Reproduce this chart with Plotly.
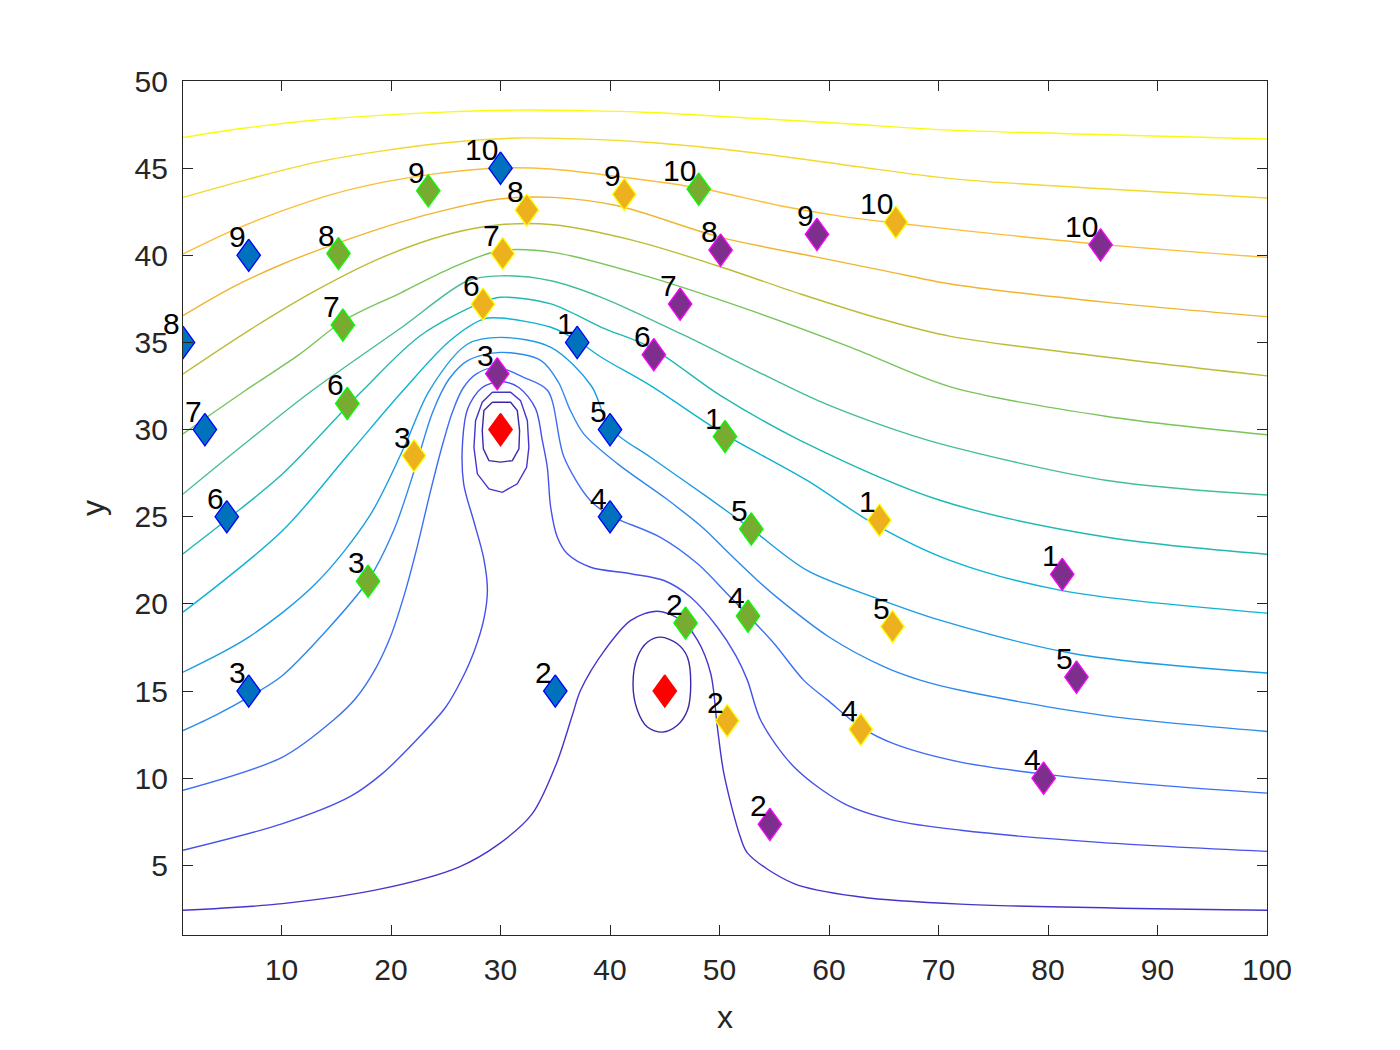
import plotly.graph_objects as go

# streamlines (named by their far-field height)
line_466_x = [1, 7.0, 13.1, 19.2, 25.3, 31.4, 37.5, 43.7, 52.9, 62.0, 71.1, 85.4, 100]
line_466_y = [46.76, 47.33, 47.76, 48.04, 48.23, 48.33, 48.30, 48.19, 47.87, 47.53, 47.18, 46.92, 46.67]

line_432_x = [1, 7.0, 13.1, 19.2, 25.3, 31.4, 34.6, 43.7, 52.9, 62.0, 71.1, 85.4, 100]
line_432_y = [43.32, 44.37, 45.33, 45.99, 46.47, 46.73, 46.72, 46.47, 45.90, 45.14, 44.40, 43.80, 43.29]

line_398_x = [1, 5.5, 10.1, 14.7, 19.2, 23.8, 29.9, 34.6, 41.3, 48.1, 55.9, 61.0, 66.1, 71.1, 85.4, 100]
line_398_y = [40.07, 41.41, 42.56, 43.51, 44.18, 44.66, 45.01, 44.95, 44.47, 43.86, 42.80, 42.25, 41.85, 41.50, 40.60, 39.88]

line_364_x = [1, 5.5, 10.1, 15.3, 20.8, 25.3, 29.9, 34.8, 40.7, 50.1, 59.0, 65.0, 71.1, 85.4, 100]
line_364_y = [36.54, 38.16, 39.50, 40.74, 41.89, 42.65, 43.23, 43.32, 42.84, 41.03, 39.88, 39.12, 38.35, 37.30, 36.48]

line_330_x = [1, 7.0, 13.1, 19.2, 25.3, 29.9, 34.8, 42.2, 49.8, 57.4, 65.0, 71.1, 85.4, 100]
line_330_y = [33.19, 35.68, 37.97, 39.88, 41.22, 41.75, 41.75, 40.84, 39.40, 37.78, 36.30, 35.35, 34.15, 33.08]

line_296_x = [1, 6.7, 11.6, 15.8, 20.9, 25.3, 29.9, 34.8, 43.7, 52.9, 62.0, 71.1, 85.4, 100]
line_296_y = [29.75, 32.24, 34.30, 36.30, 37.85, 39.21, 40.26, 40.17, 38.73, 36.82, 34.72, 32.45, 30.75, 29.70]

line_262_x = [1, 7.0, 12.8, 20.9, 27.0, 30.0, 34.6, 39.2, 46.8, 52.9, 59.0, 64.6, 70.2, 85.4, 100]
line_262_y = [26.30, 29.37, 32.24, 35.83, 38.54, 38.82, 38.54, 37.59, 35.40, 33.50, 31.66, 30.30, 29.18, 27.08, 26.25]

line_228_x = [1, 4.9, 10.1, 17.4, 22.7, 28.3, 30.0, 34.6, 39.2, 43.7, 50.1, 57.4, 70.2, 85.4, 100]
line_228_y = [22.87, 24.78, 27.46, 32.24, 35.40, 37.30, 37.59, 37.21, 35.87, 34.72, 31.95, 29.37, 25.93, 23.82, 22.85]

line_194_x = [1, 10.1, 16.0, 21.1, 25.4, 28.5, 30.0, 34.6, 37.0, 39.2, 43.7, 50.4, 58.0, 64.1, 71.1, 81.3, 100]
line_194_y = [19.52, 24.21, 28.50, 32.24, 35.11, 36.35, 36.40, 35.87, 35.11, 34.15, 32.52, 29.75, 27.08, 24.59, 22.48, 20.76, 19.47]

line_160_x = [1, 7.0, 13.1, 18.0, 21.2, 23.5, 27.0, 30.0, 34.6, 38.3, 40.0, 43.7, 48.9, 52.9, 58.0, 64.1, 70.2, 82.4, 100]
line_160_y = [16.08, 18.09, 21.15, 25.00, 29.00, 32.24, 34.91, 35.29, 34.72, 32.50, 30.10, 28.41, 26.12, 24.30, 21.92, 20.38, 19.05, 17.14, 16.03]

line_126_x = [1, 4.0, 7.0, 10.0, 14.0, 17.9, 20.3, 22.3, 23.8, 25.3, 27.0, 30.0, 33.7, 35.3, 36.3, 37.6, 40.7,
              45.2, 48.6, 50.7, 53.2, 55.0, 60.0, 65.0, 68.4, 72.0, 85.0, 100]
line_126_y = [12.73, 13.62, 14.65, 15.85, 18.40, 21.34, 24.30, 28.00, 31.00, 32.90, 33.96, 34.43, 33.96, 32.70, 31.20, 29.75, 28.03,
              26.00, 24.30, 23.00, 21.50, 20.50, 18.10, 16.40, 15.61, 15.04, 13.60, 12.68]

line_091_x = [1, 10.1, 14.7, 16.8, 18.6, 20.0, 21.2, 22.4, 23.5, 24.6, 25.6, 26.6, 27.8, 29.7, 32.1, 34.3, 35.8, 38.2, 40.0, 41.0,
              44.6, 48.0, 50.7, 52.6, 55.0, 57.7, 59.9, 62.9, 65.9, 72.0, 80.0, 90.0, 100]
line_091_y = [9.30, 11.21, 13.31, 14.60, 16.30, 18.20, 20.50, 23.30, 26.20, 28.90, 31.00, 32.40, 33.20, 33.57, 33.00, 32.24, 28.41, 25.93, 25.07, 24.78,
              23.82, 22.30, 20.58, 19.33, 17.71, 15.61, 14.46, 12.93, 11.98, 10.92, 10.20, 9.60, 9.14]

line_058_x = [1, 10.1, 16.2, 19.2, 22.3, 25.0, 26.4, 27.6, 28.5, 28.8, 28.45, 27.54, 26.63, 26.54, 27.0, 28.3, 30.0, 31.7,
              33.2, 33.82, 34.27, 34.58, 35.19, 36.1, 38.23, 41.89, 44.93, 47.37, 49.81, 51.48, 52.55, 53.77,
              56.81, 61.37, 65.94, 72.04, 85.0, 100]
line_058_y = [5.86, 7.39, 8.92, 10.26, 12.17, 14.08, 15.60, 17.30, 19.20, 20.80, 22.65, 24.78, 26.90, 29.36, 31.20, 32.40, 32.75, 32.40,
              31.20, 29.36, 27.84, 25.54, 23.82, 22.87, 22.10, 21.73, 21.34, 20.38, 18.66, 17.04, 15.61, 13.31,
              10.64, 8.54, 7.58, 7.01, 6.30, 5.80]

line_024_x = [1, 10.1, 19.2, 26.2, 29.9, 32.9, 35.1, 36.6, 37.3, 39.5, 41.9, 44.3, 46.5, 48.0, 49.2, 49.8,
              50.4, 51.9, 52.6, 56.8, 62.9, 72.0, 100]
line_024_y = [2.42, 2.80, 3.66, 4.90, 6.24, 7.96, 10.83, 13.70, 15.03, 17.33, 19.05, 19.58, 19.05, 17.90, 15.99, 12.93,
              10.26, 6.62, 5.67, 3.95, 3.18, 2.77, 2.42]

# closed contours round the two sources
ring1_in_x = [29.25, 30.92, 31.53, 31.74, 31.68, 31.08, 30.01, 28.94, 28.43, 28.33, 28.48, 29.25]
ring1_in_y = [31.57, 31.57, 31.09, 29.94, 28.89, 28.22, 28.13, 28.22, 28.89, 29.94, 31.09, 31.57]
ring1_out_x = [29.25, 30.92, 31.83, 32.45, 32.59, 32.38, 31.53, 30.16, 28.94, 27.88, 27.57, 27.72, 28.33, 29.25]
ring1_out_y = [32.14, 32.14, 31.66, 30.51, 28.98, 27.84, 26.89, 26.40, 26.60, 27.46, 28.98, 30.51, 31.57, 32.14]
ring2_x = [44.63, 46.15, 47.07, 47.37, 47.07, 46.15, 44.78, 43.41, 42.50, 42.10, 42.50, 43.41, 44.63]
ring2_y = [18.09, 17.71, 16.94, 15.42, 13.89, 13.03, 12.64, 12.93, 13.89, 15.42, 16.94, 17.80, 18.09]

# the four groups of numbered points and the two sources
labels = ["1", "2", "3", "4", "5", "6", "7", "8", "9", "10"]
blue_x = [37, 35, 7, 40, 40, 5, 3, 1, 7, 30]
blue_y = [35, 15, 15, 25, 30, 25, 30, 35, 40, 45]
green_x = [50.5, 46.9, 17.9, 52.6, 52.9, 16.0, 15.6, 15.2, 23.4, 48.1]
green_y = [29.6, 18.9, 21.3, 19.3, 24.3, 31.5, 36.0, 40.1, 43.7, 43.8]
yellow_x = [64.6, 50.7, 22.1, 62.9, 65.8, 28.4, 30.2, 32.4, 41.3, 66.1]
yellow_y = [24.8, 13.3, 28.5, 12.8, 18.7, 37.2, 40.1, 42.6, 43.5, 41.9]
purple_x = [81.3, 54.6, 29.7, 79.6, 82.6, 44.0, 46.4, 50.1, 58.9, 84.8]
purple_y = [21.7, 7.35, 33.2, 10.0, 15.8, 34.3, 37.2, 40.3, 41.2, 40.6]
red_x = [30, 45]
red_y = [30, 15]

FONT = "Liberation Sans, Arial, Helvetica, sans-serif"
INK = "#262626"

fig = go.Figure()


def add_line(xs, ys, color, shape="spline"):
    fig.add_trace(go.Scatter(x=xs, y=ys, mode="lines",
                             line=dict(color=color, width=1.4, shape=shape, smoothing=0.9),
                             hoverinfo="skip", showlegend=False))


add_line(line_466_x, line_466_y, "#F9FB0E")
add_line(line_432_x, line_432_y, "#F3D92B")
add_line(line_398_x, line_398_y, "#FBBE38")
add_line(line_364_x, line_364_y, "#F0B530")
add_line(line_330_x, line_330_y, "#BBBC37")
add_line(line_296_x, line_296_y, "#78C45A")
add_line(line_262_x, line_262_y, "#46BE94")
add_line(line_228_x, line_228_y, "#1EB9B2")
add_line(line_194_x, line_194_y, "#0EB2D2")
add_line(line_160_x, line_160_y, "#1C9CE4")
add_line(line_126_x, line_126_y, "#2E88EE")
add_line(line_091_x, line_091_y, "#3D6EF5")
add_line(line_058_x, line_058_y, "#4750EA")
add_line(line_024_x, line_024_y, "#4435CC")
add_line(ring1_out_x, ring1_out_y, "#4435CC", "linear")
add_line(ring1_in_x, ring1_in_y, "#3E26A8", "linear")
add_line(ring2_x, ring2_y, "#3E26A8")

# matlab-style diamonds are taller than wide, so draw them as little polygons
DX, DY = 1.07, 0.93


def add_diamonds(xs, ys, fill, edge):
    px, py = [], []
    for x, y in zip(xs, ys):
        px += [x, x + DX, x, x - DX, x, None]
        py += [y + DY, y, y - DY, y, y + DY, None]
    fig.add_trace(go.Scatter(x=px, y=py, mode="lines", fill="toself", fillcolor=fill,
                             line=dict(color=edge, width=1.3), hoverinfo="skip", showlegend=False))


add_diamonds(blue_x, blue_y, "#0072BD", "#0000FF")
add_diamonds(green_x, green_y, "#77AC30", "#00FF00")
add_diamonds(yellow_x, yellow_y, "#EDB120", "#FFFF00")
add_diamonds(purple_x, purple_y, "#7E2F8E", "#FF00FF")
add_diamonds(red_x, red_y, "#FF0000", "#FF0000")

for xs, ys in [(blue_x, blue_y), (green_x, green_y), (yellow_x, yellow_y), (purple_x, purple_y)]:
    for x, y, t in zip(xs, ys, labels):
        fig.add_annotation(x=x, y=y, text=t, showarrow=False, xanchor="right", yanchor="bottom",
                           xshift=-1, yshift=0, font=dict(family=FONT, size=30, color="black"))

axis_style = dict(showline=True, linecolor=INK, linewidth=1.3, mirror="allticks",
                  ticks="inside", ticklen=10, tickwidth=1.3, tickcolor=INK,
                  showgrid=False, zeroline=False, ticklabelstandoff=8,
                  tickfont=dict(family=FONT, size=30, color=INK))

fig.update_xaxes(range=[1, 100], tickvals=list(range(10, 101, 10)),
                 title=dict(text="x", font=dict(family=FONT, size=32, color=INK), standoff=20),
                 **axis_style)
fig.update_yaxes(range=[1, 50], tickvals=list(range(5, 51, 5)),
                 title=dict(text="y", font=dict(family=FONT, size=32, color=INK), standoff=20),
                 **axis_style)

# page body adds ~7px, so margins are trimmed on the top/left
fig.update_layout(width=1400, height=1050, paper_bgcolor="white", plot_bgcolor="white",
                  margin=dict(l=175, r=141, t=73, b=123), showlegend=False)

fig.write_html("out.html")
